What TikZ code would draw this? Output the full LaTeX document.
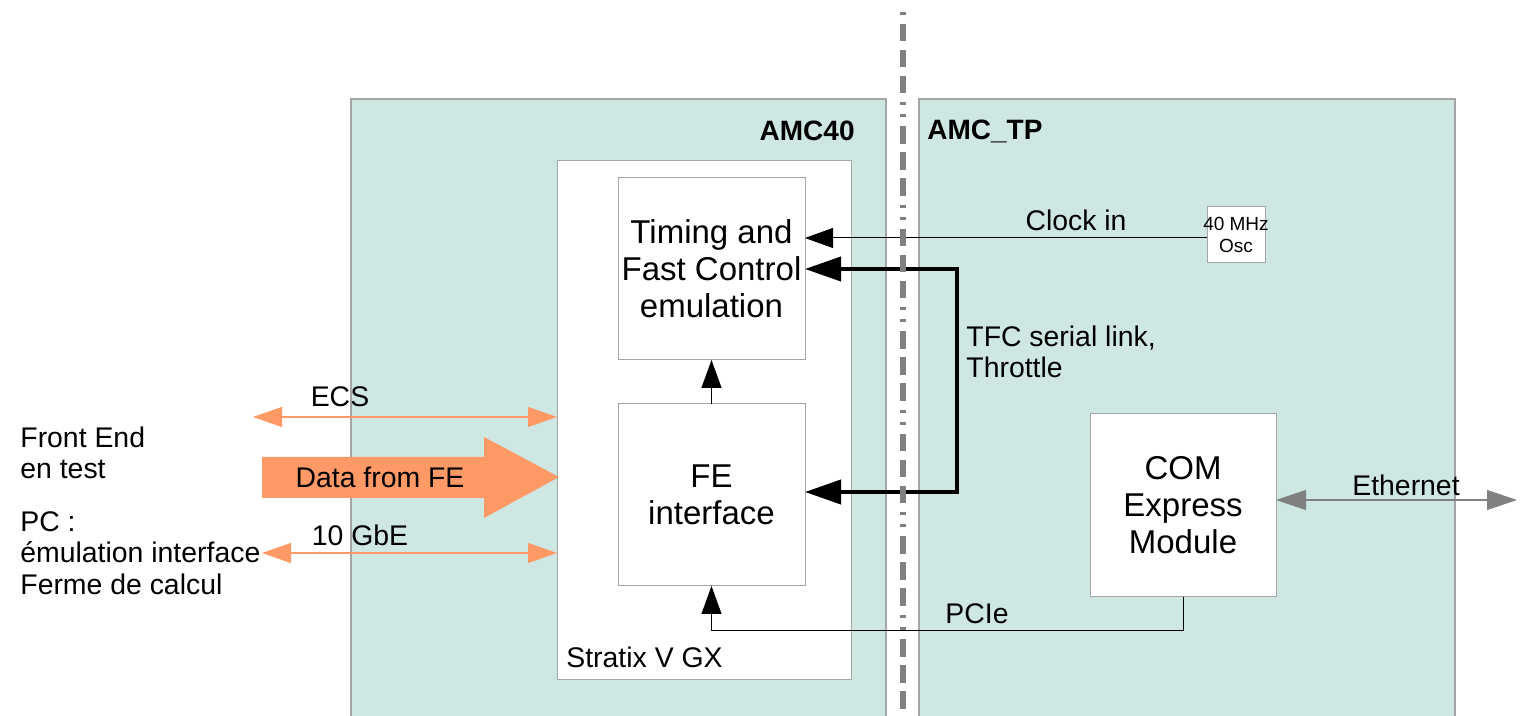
\documentclass[tikz,border=0pt]{standalone}
\usepackage{fontspec}
\setmainfont{Liberation Sans}
\usetikzlibrary{arrows.meta,calc}

\definecolor{amcfill}{RGB}{207,231,227}
\definecolor{boxline}{RGB}{165,165,165}
\definecolor{feorange}{RGB}{255,153,102}
\definecolor{sepgray}{RGB}{128,128,128}

\newcommand{\txtS}{\fontsize{14.2}{15.75}\selectfont}
\newcommand{\txtL}{\fontsize{16.5}{18.5}\selectfont}

\begin{document}
\begin{tikzpicture}[x=0.5pt,y=-0.5pt,line join=miter,
  board/.style={draw=boxline,fill=amcfill,line width=1pt,minimum height=320.5pt,outer sep=0pt},
  block/.style={draw=boxline,fill=white,line width=0.5pt,inner sep=0pt,outer sep=0pt,align=center,font=\txtL},
  lbl/.style={font=\txtS,inner sep=0pt,align=left},
  title/.style={font=\bfseries\fontsize{14}{16}\selectfont,inner sep=0pt},
  sig/.style={-{Triangle[length=14pt,width=10pt]},line width=0.5pt},
  link/.style={{Triangle[length=18pt,width=12pt]}-{Triangle[length=18pt,width=12pt]},line width=2pt},
  fearrows/.style={{Triangle[length=14.5pt,width=10pt]}-{Triangle[length=14.5pt,width=10pt]},draw=feorange,line width=0.6pt},
  etharrows/.style={{Triangle[length=15pt,width=10pt]}-{Triangle[length=15pt,width=10pt]},draw=sepgray,line width=0.6pt},
  sepline/.style={draw=sepgray,line width=3pt,
    dash pattern=on 8.75pt off 4.25pt on 8.75pt off 4.25pt on 8.75pt off 4.5pt on 1.5pt off 4.5pt on 1.5pt off 4.5pt,
    dash phase=45.25pt}]
  \useasboundingbox (0,0) rectangle (1522,716);
  \clip (0,0) rectangle (1522,716);
  % boards
  \node[board,minimum width=267.5pt] (amcA) at (618.5,419.5) {};
  \node[board,minimum width=268pt] (amcB) at (1187,419.5) {};
  \node[title,anchor=east] (amcAname) at (855,131) {AMC40};
  \node[title,anchor=west] (amcBname) at (927,131) {AMC\_TP};
  % FPGA and blocks
  \node[draw=boxline,fill=white,line width=0.5pt,outer sep=0pt,
    minimum width=147pt,minimum height=259.5pt] (fpga) at (704,420.5) {};
  \node[lbl,anchor=west] (fpganame) at (566,657) {Stratix V GX};
  \node[block,minimum width=93.5pt,minimum height=91pt] (tfc) at (711.5,269)
    {Timing and\\Fast Control\\emulation};
  \node[block,minimum width=93.5pt,minimum height=91pt] (fe) at (711.5,495)
    {FE\\interface};
  \node[block,minimum width=93pt,minimum height=91.5pt] (com) at (1183,505.5)
    {COM\\Express\\Module};
  \node[block,minimum width=29pt,minimum height=28pt] (osc) at (1236,235) {};
  \node[font=\fontsize{9.5}{11}\selectfont,align=center,inner sep=0pt] (osclbl)
    at (osc.center) {40 MHz\\Osc};
  % links inside
  \draw[sig] ($(osc.west)+(0,3)$) -- ($(osc.west -| tfc.east)+(0,3)$);
  \node[lbl] (clklbl) at (1076,220) {Clock in};
  \draw[sig] (fe.north) -- (tfc.south);
  \draw[link] (tfc.east) -- ++(152,0) |- ($(fe.east)+(0,-3)$);
  \node[lbl,anchor=west] (linklbl) at (966,352) {TFC serial link,\\Throttle};
  \draw[sig] (com.south) -- ++(0,34) -| (fe.south);
  \node[lbl] (pcielbl) at (977,614) {PCIe};
  \coordinate (ethend) at (1517,500);
  \draw[etharrows] (ethend -| com.east) -- (ethend);
  \node[lbl] (ethlbl) at (1406,485) {Ethernet};
  % front end side
  \coordinate (ecsend) at (253,417);
  \draw[fearrows] (ecsend) -- (ecsend -| fpga.west);
  \node[lbl] (ecslbl) at (340,397) {ECS};
  \fill[feorange] (262,457) -- (484,457) -- (484,437) -- (559,477)
    -- (484,518) -- (484,498) -- (262,498) -- cycle;
  \node[lbl] (datalbl) at (380,477) {Data from FE};
  \coordinate (gbeend) at (262,553);
  \draw[fearrows] (gbeend) -- (gbeend -| fpga.west);
  \node[lbl] (gbelbl) at (360,535) {10 GbE};
  \node[lbl,anchor=west] (felbl) at (20,453) {Front End\\en test};
  \node[lbl,anchor=west] (pclbl) at (20,553) {PC :\\émulation interface\\Ferme de calcul};
  % separator
  \coordinate (septop) at (903,12);
  \coordinate (sepbot) at (903,716);
  \draw[sepline] (septop) -- (sepbot);
\end{tikzpicture}
\end{document}
